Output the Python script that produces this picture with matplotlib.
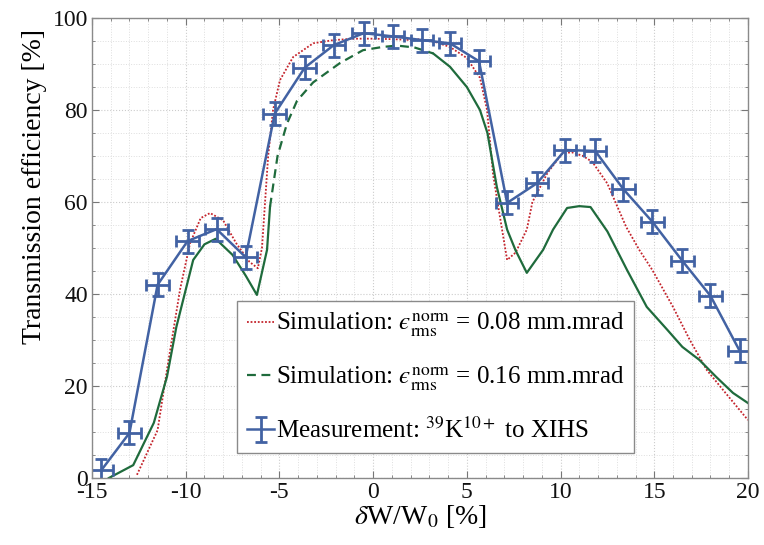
import matplotlib
matplotlib.use("Agg")
import matplotlib.pyplot as plt
import numpy as np
from matplotlib.ticker import MultipleLocator

plt.rcParams['font.family'] = ['Liberation Serif', 'DejaVu Serif']
plt.rcParams['mathtext.fontset'] = 'stix'

# Measured transmission (39K10+ to XIHS)
meas_dw = [-14.5, -13.0, -11.5, -9.9, -8.35, -6.8, -5.25, -3.65, -2.1, -0.5,
           1.05, 2.6, 4.1, 5.65, 7.15, 8.75, 10.25, 11.85, 13.35, 14.9,
           16.5, 18.0, 19.55]
meas_eff = [1.7, 9.8, 42.0, 51.5, 54.1, 48.0, 79.2, 89.2, 94.1, 96.7,
            96.0, 95.2, 94.5, 90.6, 59.8, 64.1, 71.3, 71.1, 62.8, 55.7,
            47.2, 39.6, 27.7]
meas_dw_err = 0.6
meas_eff_err = 2.5

# Simulation, emittance 0.08 mm.mrad
sim1_dw = [-12.6, -11.5, -11.0, -10.3, -9.77, -9.2, -8.7, -8.0, -7.3, -6.6,
           -6.15, -5.93, -5.6, -5.34, -4.97, -4.27, -3.2, -2.1, -1.0, 0.0,
           1.0, 2.1, 2.5, 3.3, 4.1, 5.0, 5.7, 6.08, 6.4, 6.77, 7.15, 7.6,
           8.2, 8.5, 9.3, 10.1, 10.6, 11.2, 11.7, 12.5, 13.5, 14.2, 14.9,
           16.0, 16.9, 17.8, 18.7, 20.0]
sim1_eff = [0.7, 10.4, 23.5, 41.0, 51.0, 56.5, 57.6, 56.0, 51.0, 47.0,
            45.6, 50.0, 70.0, 80.0, 86.5, 91.5, 94.5, 95.2, 95.5, 95.5,
            95.4, 95.2, 95.4, 94.8, 93.7, 91.3, 87.0, 80.0, 66.0, 56.7, 47.4, 49.0,
            54.0, 60.0, 66.3, 70.6, 70.8, 70.0, 68.7, 64.0, 54.6, 49.6, 45.2,
            37.2, 30.0, 23.5, 19.0, 12.6]

# Simulation, emittance 0.16 mm.mrad
sim2_dw = [-14.1, -12.8, -11.7, -11.0, -10.5, -9.6, -9.0, -8.4, -7.5, -6.8,
           -6.2, -5.66, -5.5, -5.1, -4.6, -4.06, -3.2, -1.77, -0.54, 0.5,
           1.27, 2.2, 3.2, 4.1, 5.0, 5.7, 6.1, 6.6, 7.15, 7.6, 8.2, 9.07,
           9.6, 10.35, 11.0, 11.6, 12.5, 13.55, 14.6, 15.7, 16.5, 17.4, 18.3,
           19.2, 20.0]
sim2_eff = [0.0, 2.8, 12.0, 22.0, 32.8, 47.4, 50.8, 52.0, 48.5, 44.0,
            39.8, 49.6, 59.0, 70.0, 77.0, 82.0, 86.0, 90.2, 93.0, 93.7,
            94.0, 93.6, 92.3, 89.4, 85.0, 80.0, 75.0, 63.3, 54.0, 49.5, 44.6, 49.6,
            54.0, 58.7, 59.1, 58.9, 53.6, 45.2, 37.2, 32.2, 28.5, 25.7, 22.0,
            18.5, 16.3]

x_ticks = [-15, -10, -5, 0, 5, 10, 15, 20]
x_ticklabels = ['-15', '-10', '-5', '0', '5', '10', '15', '20']

eps = '\u03f5'
labels = ['Simulation: $' + eps + r'^{\rm norm}_{\rm rms}$ = 0.08 mm.mrad',
          'Simulation: $' + eps + r'^{\rm norm}_{\rm rms}$ = 0.16 mm.mrad',
          r'Measurement: $^{39}$K$^{10+}$ to XIHS']

red = '#c4242c'
green = '#1f6b3c'
blue = '#4262a3'

fig = plt.figure(figsize=(7.64, 5.45), dpi=100)
ax = fig.add_axes([0.1204, 0.1229, 0.8586, 0.8441])

h1, = ax.plot(sim1_dw, sim1_eff, color=red, lw=1.3, ls=(0, (1, 1)))

# The dense 0.16 mm.mrad curve shows its dashes only on the plateau
i0, i1 = 12, 22
ax.plot(sim2_dw[:i0 + 1], sim2_eff[:i0 + 1], color=green, lw=1.6, ls='-')
h2, = ax.plot(sim2_dw[i0:i1 + 1], sim2_eff[i0:i1 + 1], color=green, lw=1.6,
              ls=(0, (4, 2.5)))
ax.plot(sim2_dw[i1:], sim2_eff[i1:], color=green, lw=1.6, ls='-')

ax.errorbar(meas_dw, meas_eff, xerr=meas_dw_err, yerr=meas_eff_err,
            color=blue, lw=1.8, elinewidth=2.0, capsize=4, capthick=2.0)
# legend key for the measurement: vertical error bar only
h3 = ax.errorbar([np.nan], [np.nan], yerr=[1.0], color=blue, lw=1.8,
                 elinewidth=2.0, capsize=4, capthick=2.0)

ax.set_xlim(-15, 20)
ax.set_ylim(0, 100)
ax.set_xticks(x_ticks)
ax.set_xticklabels(x_ticklabels)
ax.xaxis.set_minor_locator(MultipleLocator(1))
ax.yaxis.set_major_locator(MultipleLocator(20))
ax.yaxis.set_minor_locator(MultipleLocator(5))
ax.grid(which='major', color='#cccccc', ls=':', lw=0.8)
ax.grid(which='minor', color='#dedede', ls=':', lw=0.7)
ax.set_axisbelow(True)
ax.tick_params(which='both', direction='in', top=True, right=True,
               colors='#777777', labelcolor='#111111', labelsize=17)
ax.tick_params(which='major', length=5, pad=3)
ax.tick_params(which='minor', length=2.5)
for s in ax.spines.values():
    s.set_color('#8a8a8a')
    s.set_linewidth(1.0)

ax.set_xlabel(r'$\delta$W/W$_0$ [%]', fontsize=20, labelpad=0)
ax.set_ylabel('Transmission efficiency [%]', fontsize=20)
ax.yaxis.set_label_coords(-0.068, 0.633)

leg = ax.legend([h1, h2, h3], labels, loc='lower left',
                bbox_to_anchor=(0.221, 0.054), fontsize=18, frameon=True,
                fancybox=False, edgecolor='#8a8a8a', framealpha=1,
                handlelength=1.1, handletextpad=0.05, borderpad=0.4,
                labelspacing=1.0, borderaxespad=0)
leg.get_frame().set_linewidth(1.0)

fig.savefig('out.png', dpi=100)
